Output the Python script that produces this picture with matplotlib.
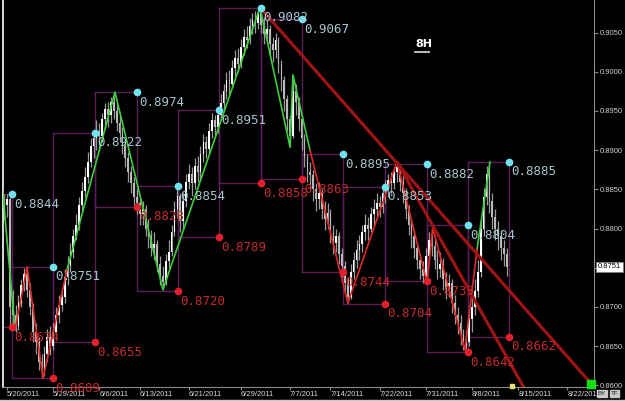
import numpy as np
import matplotlib.pyplot as plt
from matplotlib.lines import Line2D

# 8H price bars, prices in pips (8751 -> 0.8751); open = previous close
first_open = 8820
close = [8830, 8838, 8700, 8690, 8676, 8705, 8728, 8742, 8722, 8700, 8668, 8655, 8630, 8618, 8640,
         8662, 8650, 8668, 8690, 8702, 8712, 8738, 8752, 8770, 8790, 8805, 8830, 8848, 8866, 8885,
         8905, 8915, 8925, 8918, 8940, 8952, 8945, 8962, 8950, 8935, 8922, 8905, 8890, 8872, 8858,
         8840, 8832, 8818, 8825, 8800, 8790, 8775, 8780, 8755, 8740, 8732, 8758, 8770, 8795, 8825,
         8842, 8810, 8835, 8860, 8870, 8858, 8880, 8872, 8895, 8910, 8902, 8925, 8938, 8930, 8945,
         8960, 8975, 8990, 8985, 9005, 9018, 9010, 9032, 9045, 9040, 9058, 9066, 9062, 9075, 9060,
         9048, 9055, 9035, 9028, 9040, 9010, 8990, 8965, 8940, 8918, 8975, 8962, 8940, 8915, 8890,
         8872, 8868, 8850, 8838, 8845, 8825, 8812, 8820, 8795, 8782, 8790, 8768, 8752, 8730, 8712,
         8745, 8760, 8772, 8780, 8795, 8805, 8800, 8818, 8825, 8832, 8828, 8845, 8850, 8862, 8858,
         8872, 8878, 8860, 8845, 8825, 8805, 8790, 8775, 8760, 8748, 8740, 8765, 8785, 8778, 8760,
         8748, 8755, 8735, 8722, 8730, 8705, 8690, 8680, 8665, 8650, 8655, 8685, 8700, 8720, 8745,
         8800, 8840, 8870, 8835, 8815, 8800, 8790, 8775, 8768, 8751]
high = [8844, 8844, 8840, 8722, 8702, 8715, 8735, 8750, 8751, 8730, 8705, 8680, 8662, 8640, 8650,
        8672, 8675, 8680, 8700, 8715, 8725, 8748, 8765, 8782, 8800, 8818, 8840, 8860, 8878, 8898,
        8915, 8925, 8938, 8935, 8948, 8960, 8962, 8968, 8974, 8958, 8945, 8930, 8912, 8898, 8880,
        8866, 8850, 8840, 8835, 8830, 8812, 8798, 8795, 8785, 8765, 8752, 8768, 8785, 8805, 8835,
        8852, 8845, 8845, 8870, 8882, 8878, 8890, 8892, 8905, 8920, 8918, 8935, 8948, 8945, 8955,
        8972, 8985, 9000, 9002, 9015, 9028, 9030, 9042, 9055, 9058, 9068, 9075, 9078, 9082, 9080,
        9070, 9066, 9060, 9045, 9050, 9045, 9015, 8995, 8970, 8945, 8996, 8985, 8968, 8945, 8920,
        8895, 8885, 8875, 8858, 8860, 8850, 8835, 8832, 8825, 8805, 8800, 8795, 8775, 8758, 8738,
        8755, 8770, 8785, 8792, 8805, 8818, 8815, 8828, 8838, 8845, 8842, 8855, 8862, 8870, 8872,
        8880, 8885, 8882, 8868, 8852, 8830, 8812, 8798, 8782, 8768, 8758, 8775, 8795, 8801, 8785,
        8772, 8770, 8762, 8745, 8742, 8735, 8715, 8700, 8690, 8672, 8670, 8695, 8712, 8735, 8760,
        8812, 8852, 8880, 8885, 8845, 8825, 8810, 8798, 8785, 8775]
low = [8812, 8815, 8674, 8671, 8668, 8670, 8700, 8720, 8712, 8690, 8655, 8640, 8620, 8609, 8612,
       8630, 8638, 8645, 8660, 8680, 8695, 8705, 8728, 8745, 8762, 8785, 8798, 8822, 8840, 8858,
       8878, 8890, 8900, 8900, 8910, 8928, 8930, 8935, 8940, 8925, 8910, 8895, 8878, 8860, 8845,
       8830, 8818, 8805, 8805, 8790, 8775, 8765, 8760, 8745, 8728, 8722, 8728, 8750, 8765, 8790,
       8815, 8795, 8800, 8828, 8850, 8842, 8850, 8860, 8865, 8885, 8890, 8895, 8915, 8918, 8922,
       8938, 8952, 8965, 8972, 8980, 8995, 9000, 9005, 9022, 9030, 9035, 9048, 9050, 9055, 9050,
       9035, 9038, 9022, 9012, 9018, 8998, 8975, 8950, 8925, 8904, 8915, 8945, 8925, 8900, 8878,
       8860, 8850, 8835, 8822, 8825, 8812, 8798, 8800, 8782, 8768, 8770, 8755, 8738, 8718, 8705,
       8710, 8735, 8750, 8760, 8770, 8785, 8785, 8795, 8805, 8812, 8815, 8820, 8832, 8840, 8845,
       8850, 8860, 8848, 8832, 8812, 8792, 8775, 8762, 8748, 8735, 8731, 8732, 8758, 8765, 8748,
       8735, 8738, 8722, 8710, 8712, 8692, 8678, 8665, 8652, 8645, 8642, 8650, 8668, 8690, 8712,
       8738, 8790, 8830, 8820, 8800, 8785, 8772, 8760, 8752, 8740]

# weekly range boxes: edges (bar index) and high / low of each box
box_edges = [-3.0, 2.8, 17.0, 31.5, 46.0, 60.2, 74.4, 88.9, 103.1, 117.3, 131.8, 146.4, 160.6, 174.7]
box_hi = [8844, 8751, 8922, 8974, 8854, 8951, 9082, 9067, 8895, 8853, 8882, 8804, 8885]
box_lo = [8674, 8609, 8655, 8828, 8720, 8789, 8858, 8863, 8744, 8704, 8733, 8642, 8662]

# zigzag swings (bar, price)
green_legs = [
    ([-0.5, 3.8], [8849, 8671]),
    ([21.8, 38.4, 55.0, 88.6, 99.0, 100.0, 105.9], [8747, 8974, 8722, 9082, 8904, 8996, 8900]),
    ([163.7, 168.2], [8773, 8885]),
]
red_legs = [
    ([3.8, 8.0, 13.5, 21.8], [8671, 8751, 8609, 8747]),
    ([105.9, 119.0, 136.0, 146.4, 148.4, 159.5, 163.7], [8900, 8705, 8885, 8731, 8801, 8645, 8773]),
]
# trend lines (bar, price)
trend_lines = [
    ([88.6, 203.0], [9082, 8603]),
    ([136.0, 181.0], [8885, 8590]),
]

tick_bars = [1, 17, 33, 47, 64, 82, 99, 113, 130, 146, 162, 178, 195]
tick_dates = ['5/20/2011', '5/29/2011', '6/6/2011', '6/13/2011', '6/21/2011', '6/29/2011',
              '7/7/2011', '7/14/2011', '7/22/2011', '7/31/2011', '8/8/2011', '8/15/2011', '8/22/2011']
price_ticks = [0.8600, 0.8650, 0.8700, 0.8750, 0.8800, 0.8850, 0.8900, 0.8950, 0.9000, 0.9050]
last_price = 0.8751

P = lambda v: np.asarray(v, dtype=float) / 10000.0
SMALL = 'Liberation Sans'

fig = plt.figure(figsize=(6.25, 4.01), dpi=100, facecolor='black')
ax = fig.add_axes([3 / 625, 14 / 401, 591 / 625, 387 / 401], facecolor='black')

c = P(close)
o = np.concatenate([[first_open / 10000.0], c[:-1]])
h = P(high)
l = P(low)
x = np.arange(len(c))

# boxes
for i in range(len(box_hi)):
    x0, x1 = box_edges[i], box_edges[i + 1]
    hi, lo = box_hi[i] / 10000.0, box_lo[i] / 10000.0
    ax.plot([x0, x1, x1, x0, x0], [hi, hi, lo, lo, hi], color='#5c1c5c', lw=1.0, zorder=1)

# candles
ax.vlines(x, l, h, color='#9a9a9a', lw=0.9, zorder=2)
up = c >= o
body_lo = np.minimum(o, c)
body_h = np.maximum(np.abs(c - o), 0.00008)
ax.bar(x[up], body_h[up], bottom=body_lo[up], width=0.6, color='white', zorder=3)
ax.bar(x[~up], body_h[~up], bottom=body_lo[~up], width=0.6, color='#b8b8b8', zorder=3)

# zigzags and trend lines
for bx, py in green_legs:
    ax.plot(bx, P(py), color='#3ccf3c', lw=1.2, zorder=4)
for bx, py in red_legs:
    ax.plot(bx, P(py), color='#e02828', lw=1.2, zorder=4)
for bx, py in trend_lines:
    ax.plot(bx, P(py), color='#9e1414', lw=2.3, zorder=5, solid_capstyle='butt')

# box labels
for i in range(len(box_hi)):
    x1 = box_edges[i + 1]
    hi, lo = box_hi[i] / 10000.0, box_lo[i] / 10000.0
    ax.plot(x1, hi, 'o', color='#6fe3ee', ms=4.5, zorder=6)
    ax.plot(x1, lo, 'o', color='#e0202a', ms=4.5, zorder=6)
    ax.annotate(f'{hi:.4f}', (x1, hi), xytext=(1.5, -2.5), textcoords='offset points',
                ha='left', va='top', color='#a6c6ce', fontsize=9, family='DejaVu Sans Mono', zorder=7)
    ax.annotate(f'{lo:.4f}', (x1, lo), xytext=(1.5, -2.5), textcoords='offset points',
                ha='left', va='top', color='#c42c2c', fontsize=9, family='DejaVu Sans Mono', zorder=7)

# markers on the axis
ax.plot(203.1, 0.8602, 's', color='#10e010', ms=6, zorder=8, clip_on=False)
ax.plot(175.8, 0.85995, 's', color='#e8e070', ms=3, zorder=8, clip_on=False)

ax.set_xlim(-0.35, 204.2)
ax.set_ylim(0.85978, 0.90916)

ax.yaxis.tick_right()
ax.set_yticks(price_ticks)
# the current-price flag takes the place of the label next to it
ax.set_yticklabels(['' if abs(v - last_price) < 0.0003 else f'{v:.4f}' for v in price_ticks],
                   family=SMALL)
ax.set_xticks(tick_bars)
ax.set_xticklabels(tick_dates, ha='left', family=SMALL)
ax.tick_params(axis='y', colors='#8a8a8a', labelcolor='#d0d0d0', labelsize=5.5, length=3, pad=1)
ax.tick_params(axis='x', colors='#8a8a8a', labelcolor='#d8d8d8', labelsize=5.5, length=2.5, pad=0.5)

ax.spines['top'].set_visible(False)
ax.spines['left'].set_color('white')
ax.spines['left'].set_linewidth(1.2)
ax.spines['bottom'].set_color('#8a8a8a')
ax.spines['right'].set_color('#8a8a8a')

# current price flag
ax.annotate(f'{last_price:.4f}', (1.0, last_price), xycoords=('axes fraction', 'data'),
            xytext=(2.5, 0), textcoords='offset points', ha='left', va='center', fontsize=5.5,
            family=SMALL, color='black',
            bbox=dict(boxstyle='square,pad=0.25', fc='white', ec='#808080', lw=0.5))

# timeframe tag
ax.text(0.697, 0.873, '8H', transform=ax.transAxes, color='white', fontsize=8, fontweight='bold',
        ha='left', va='bottom')
ax.add_line(Line2D([0.697, 0.72], [0.866, 0.866], transform=ax.transAxes, color='#d0d0d0', lw=1.3))

# corner buttons
for xx, t in [(598, 'BY'), (611, 'TF')]:
    fig.text(xx / 625, 7.5 / 401, t, fontsize=4.5, family=SMALL, color='#202020', ha='left',
             va='center', bbox=dict(boxstyle='square,pad=0.12', fc='#c8c8c8', ec='#c8c8c8'))
fig.add_artist(Line2D([0, 1], [0.6 / 401, 0.6 / 401], color='#c8c8c8', lw=1.0))

fig.savefig('out.png', dpi=100, facecolor='black')
